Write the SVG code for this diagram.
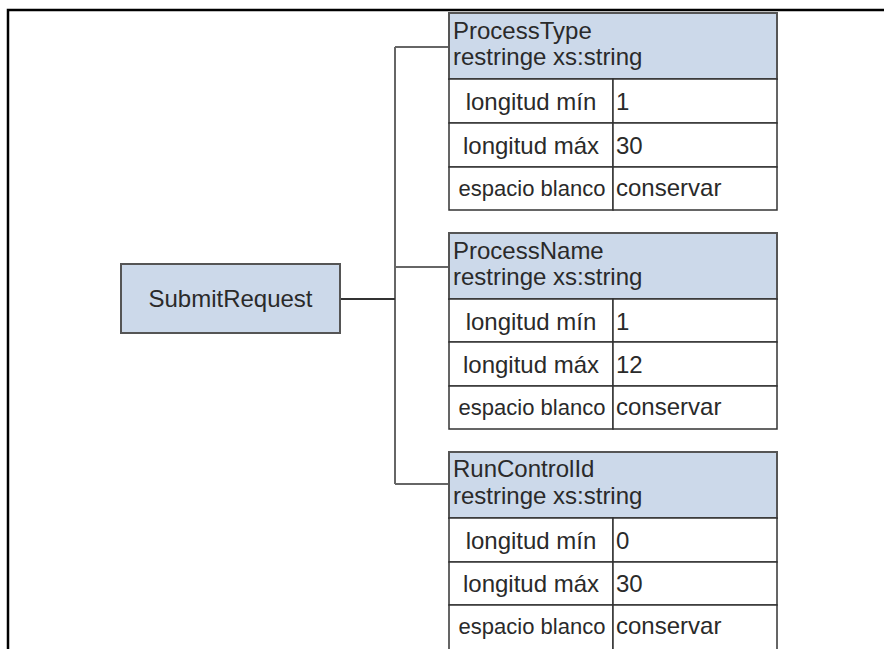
<svg xmlns="http://www.w3.org/2000/svg" width="884" height="649" viewBox="0 0 884 649">
<style>
text{font-family:"Liberation Sans",Arial,sans-serif;fill:#2a2a2a}
.t{font-size:24px}
.s{font-size:22px}
.lbl{text-anchor:middle}
.hdr{fill:#ccd9ea;stroke:#555;stroke-width:2}
.cell{fill:#fff;stroke:#333;stroke-width:1.5}
.conn{fill:none;stroke:#666;stroke-width:2}
.frame{fill:none;stroke:#000;stroke-width:2.5}
</style>
<path class="frame" d="M8,649 V10 H884"/>
<g id="connectors">
<path class="conn" d="M395,47 V484"/>
<path class="conn" d="M395,47 H449"/>
<path class="conn" d="M395,267 H449"/>
<path class="conn" d="M395,484 H449"/>
<path class="conn" style="stroke:#333" d="M340,299 H395"/>
</g>
<g id="SubmitRequest">
<rect class="hdr" x="121" y="264" width="219" height="69"/>
<text class="t lbl" x="230.5" y="307">SubmitRequest</text>
</g>
<g id="ProcessType">
<rect class="hdr" x="449" y="13" width="328" height="66"/>
<text class="t" x="453" y="39">ProcessType</text>
<text class="t" x="453" y="65">restringe xs:string</text>
<rect class="cell" x="449" y="79" width="164" height="44"/>
<rect class="cell" x="613" y="79" width="164" height="44"/>
<rect class="cell" x="449" y="123" width="164" height="44"/>
<rect class="cell" x="613" y="123" width="164" height="44"/>
<rect class="cell" x="449" y="167" width="164" height="43"/>
<rect class="cell" x="613" y="167" width="164" height="43"/>
<text class="t lbl" x="531" y="110">longitud mín</text>
<text class="t" x="616" y="110">1</text>
<text class="t lbl" x="531" y="154">longitud máx</text>
<text class="t" x="616" y="154">30</text>
<text class="s lbl" x="532" y="196">espacio blanco</text>
<text class="t" x="616" y="196">conservar</text>
</g>
<g id="ProcessName">
<rect class="hdr" x="449" y="233" width="328" height="66"/>
<text class="t" x="453" y="259">ProcessName</text>
<text class="t" x="453" y="285">restringe xs:string</text>
<rect class="cell" x="449" y="299" width="164" height="43"/>
<rect class="cell" x="613" y="299" width="164" height="43"/>
<rect class="cell" x="449" y="342" width="164" height="44"/>
<rect class="cell" x="613" y="342" width="164" height="44"/>
<rect class="cell" x="449" y="386" width="164" height="43"/>
<rect class="cell" x="613" y="386" width="164" height="43"/>
<text class="t lbl" x="531" y="330">longitud mín</text>
<text class="t" x="616" y="330">1</text>
<text class="t lbl" x="531" y="373">longitud máx</text>
<text class="t" x="616" y="373">12</text>
<text class="s lbl" x="532" y="415">espacio blanco</text>
<text class="t" x="616" y="415">conservar</text>
</g>
<g id="RunControlId">
<rect class="hdr" x="449" y="452" width="328" height="66"/>
<text class="t" x="453" y="477">RunControlId</text>
<text class="t" x="453" y="504">restringe xs:string</text>
<rect class="cell" x="449" y="518" width="164" height="44"/>
<rect class="cell" x="613" y="518" width="164" height="44"/>
<rect class="cell" x="449" y="562" width="164" height="43"/>
<rect class="cell" x="613" y="562" width="164" height="43"/>
<rect class="cell" x="449" y="605" width="164" height="50"/>
<rect class="cell" x="613" y="605" width="164" height="50"/>
<text class="t lbl" x="531" y="549">longitud mín</text>
<text class="t" x="616" y="549">0</text>
<text class="t lbl" x="531" y="592">longitud máx</text>
<text class="t" x="616" y="592">30</text>
<text class="s lbl" x="532" y="634">espacio blanco</text>
<text class="t" x="616" y="634">conservar</text>
</g>
</svg>
